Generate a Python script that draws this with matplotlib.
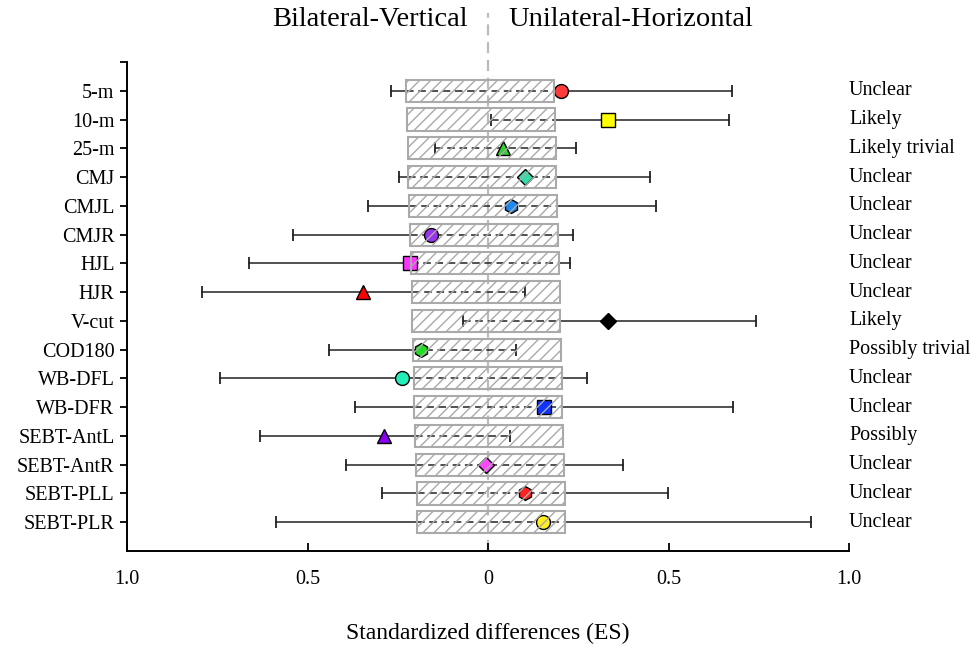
import matplotlib
matplotlib.use("Agg")
import matplotlib.pyplot as plt

plt.rcParams['font.family'] = ['Liberation Serif', 'DejaVu Serif']

# tests, top to bottom
tests = ["5-m", "10-m", "25-m", "CMJ", "CMJL", "CMJR", "HJL", "HJR", "V-cut",
         "COD180", "WB-DFL", "WB-DFR", "SEBT-AntL", "SEBT-AntR", "SEBT-PLL", "SEBT-PLR"]
es = [0.201, 0.333, 0.042, 0.103, 0.064, -0.159, -0.216, -0.347, 0.333,
      -0.187, -0.238, 0.154, -0.287, -0.007, 0.103, 0.151]
ci_lo = [-0.269, 0.008, -0.147, -0.247, -0.332, -0.539, -0.663, -0.791, -0.069,
         -0.440, -0.742, -0.368, -0.633, -0.394, -0.295, -0.588]
ci_hi = [0.676, 0.667, 0.243, 0.449, 0.465, 0.235, 0.227, 0.103, 0.741,
         0.078, 0.273, 0.679, 0.060, 0.374, 0.499, 0.895]
outcome = ["Unclear", "Likely", "Likely trivial", "Unclear", "Unclear", "Unclear",
           "Unclear", "Unclear", "Likely", "Possibly trivial", "Unclear", "Unclear",
           "Possibly", "Unclear", "Unclear", "Unclear"]
# trivial area (smallest worthwhile change) as drawn in each row
box_lo = [-0.226, -0.224, -0.222, -0.221, -0.219, -0.216, -0.214, -0.212,
          -0.211, -0.208, -0.206, -0.204, -0.201, -0.199, -0.198, -0.196]
box_hi = [0.184, 0.186, 0.188, 0.189, 0.191, 0.194, 0.196, 0.198,
          0.199, 0.202, 0.204, 0.206, 0.209, 0.211, 0.212, 0.214]

markers = ['o', 's', '^', 'D', 'h'] * 4
colors = ['#ff3b3b', '#ffff00', '#33cc33', '#33ddaa', '#1e88ee', '#9933ee',
          '#ff33ff', '#ff0000', '#000000', '#22dd22', '#22eebb', '#1133ff',
          '#8800ee', '#ff44ff', '#ff2222', '#ffee22']

fig = plt.figure(figsize=(9.72, 6.46), dpi=100)
ax = fig.add_axes([0.1307, 0.1471, 0.7428, 0.7569])

# zero line, running up between the two headings
ax.axvline(0, ymin=0, ymax=1.10, color='#bbbbbb', lw=1.6, ls=(0, (5, 3)),
           clip_on=False, zorder=1)

for i in range(len(tests)):
    lo, hi, bl, bh = ci_lo[i], ci_hi[i], box_lo[i], box_hi[i]
    # solid outside the trivial area, dashed inside
    if lo < bl:
        ax.plot([lo, min(hi, bl)], [i, i], color='#222222', lw=1.1, zorder=2)
    if hi > bh:
        ax.plot([max(lo, bh), hi], [i, i], color='#222222', lw=1.1, zorder=2)
    a, b = max(lo, bl), min(hi, bh)
    if a < b:
        ax.plot([a, b], [i, i], color='#222222', lw=1.1, ls=(0, (5, 3)), zorder=2)
    ax.plot([lo, hi], [i, i], ls='none', marker='|', ms=8.5, mew=1.3,
            color='#222222', zorder=2)
    ms = 8.5 if markers[i] == 'D' else 10
    ax.plot(es[i], i, marker=markers[i], ms=ms, mfc=colors[i], mec='black',
            mew=1.0, ls='none', zorder=3)
    ax.text(1.0, i, outcome[i], ha='left', va='center', fontsize=14.5,
            clip_on=False)

ax.barh(range(len(tests)), [h - l for l, h in zip(box_lo, box_hi)], left=box_lo,
        height=0.77, color='none', edgecolor='#aaaaaa', lw=1.5, hatch='///',
        zorder=4)

ax.set_xlim(-1, 1)
ax.set_ylim(16, -1)
ax.set_yticks(range(-1, len(tests)))
ax.set_yticklabels([''] + tests, fontsize=14.5)
ax.set_xticks([-1, -0.5, 0, 0.5, 1])
ax.set_xticklabels(['1.0', '0.5', '0', '0.5', '1.0'], fontsize=14.5)
ax.tick_params(axis='y', direction='out', length=5, width=1.3, pad=4)
ax.tick_params(axis='x', direction='in', length=6, width=1.3, pad=14)
for s in ['top', 'right']:
    ax.spines[s].set_visible(False)
for s in ['left', 'bottom']:
    ax.spines[s].set_linewidth(1.4)

fig.text(468 / 972, 1 - 19 / 646, 'Bilateral-Vertical', ha='right', va='center',
         fontsize=20.5)
fig.text(508 / 972, 1 - 19 / 646, 'Unilateral-Horizontal', ha='left', va='center',
         fontsize=20.5)
fig.text(488 / 972, 1 - 633 / 646, 'Standardized differences (ES)', ha='center',
         va='center', fontsize=17)

fig.savefig('out.png', dpi=100)
